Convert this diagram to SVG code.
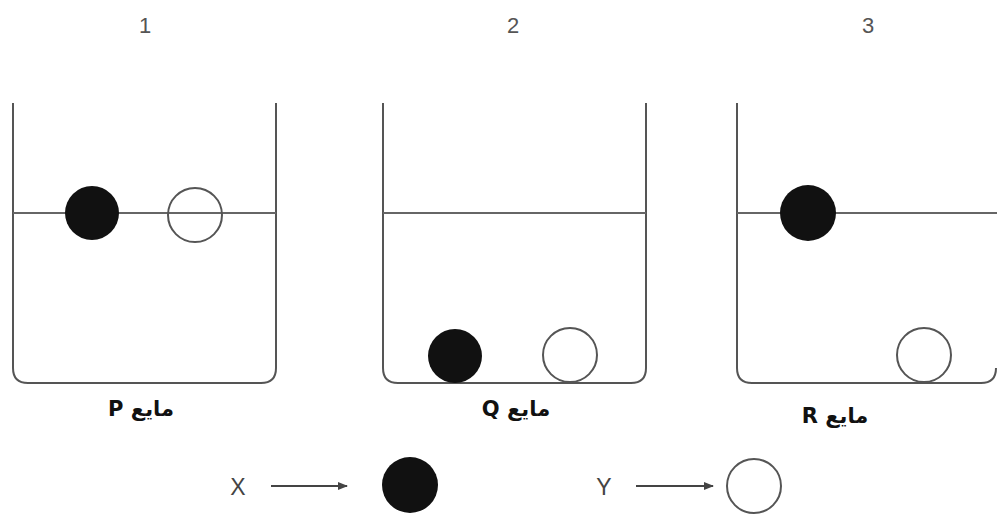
<svg xmlns="http://www.w3.org/2000/svg" width="997" height="515" viewBox="0 0 997 515">
<style>
.wall{fill:none;stroke:#555;stroke-width:2}
.liq{stroke:#666;stroke-width:2}
.bx{fill:#111}
.wx{fill:#fff;stroke:#555;stroke-width:2}
.num{font-family:"Liberation Sans Narrow","Liberation Sans",sans-serif;font-size:22px;fill:#555}
.lbl{font-family:"DejaVu Sans",sans-serif;font-size:21px;font-weight:bold;fill:#111}
.key{font-family:"Liberation Sans",sans-serif;font-size:23px;fill:#444}
.arr{stroke:#444;stroke-width:2;fill:none}
</style>
<defs>
<marker id="ah" markerWidth="10" markerHeight="8" refX="9" refY="4" orient="auto" markerUnits="userSpaceOnUse">
<path d="M0,0 L10,4 L0,8 Z" fill="#444"/>
</marker>
</defs>
<g id="titles">
<text class="num" x="145" y="33" text-anchor="middle">1</text>
<text class="num" x="513" y="33" text-anchor="middle">2</text>
<text class="num" x="868" y="33" text-anchor="middle">3</text>
</g>
<g id="beaker1">
<path class="wall" d="M13,103 V368 Q13,383 28,383 H261 Q276,383 276,368 V103"/>
<line class="liq" x1="13" y1="213" x2="276" y2="213"/>
<circle class="bx" cx="92" cy="213" r="27"/>
<circle class="wx" cx="195" cy="215" r="27" fill="none" style="fill:none"/>
<text class="lbl" x="141" y="416" text-anchor="middle" direction="rtl">مايع P</text>
</g>
<g id="beaker2">
<path class="wall" d="M383,103 V368 Q383,383 398,383 H631 Q646,383 646,368 V103"/>
<line class="liq" x1="383" y1="213" x2="646" y2="213"/>
<circle class="bx" cx="455" cy="356" r="27"/>
<circle class="wx" cx="570" cy="355" r="27"/>
<text class="lbl" x="516" y="416" text-anchor="middle" direction="rtl">مايع Q</text>
</g>
<g id="beaker3">
<path class="wall" d="M737,103 V368 Q737,383 752,383 H981 Q996,383 996,368"/>
<line class="liq" x1="737" y1="213" x2="997" y2="213"/>
<circle class="bx" cx="808" cy="213" r="28"/>
<circle class="wx" cx="924" cy="355" r="27"/>
<text class="lbl" x="835" y="423" text-anchor="middle" direction="rtl">مايع R</text>
</g>
<g id="keyX">
<text class="key" x="238" y="495" text-anchor="middle">X</text>
<circle class="bx" cx="410" cy="485" r="28"/>
</g>
<g id="keyY">
<text class="key" x="604" y="495" text-anchor="middle">Y</text>
<circle class="wx" cx="754" cy="486" r="27"/>
</g>
<g id="connectors">
<line class="arr" x1="271" y1="486" x2="347" y2="486" marker-end="url(#ah)"/>
<line class="arr" x1="636" y1="486" x2="713" y2="486" marker-end="url(#ah)"/>
</g>
</svg>
